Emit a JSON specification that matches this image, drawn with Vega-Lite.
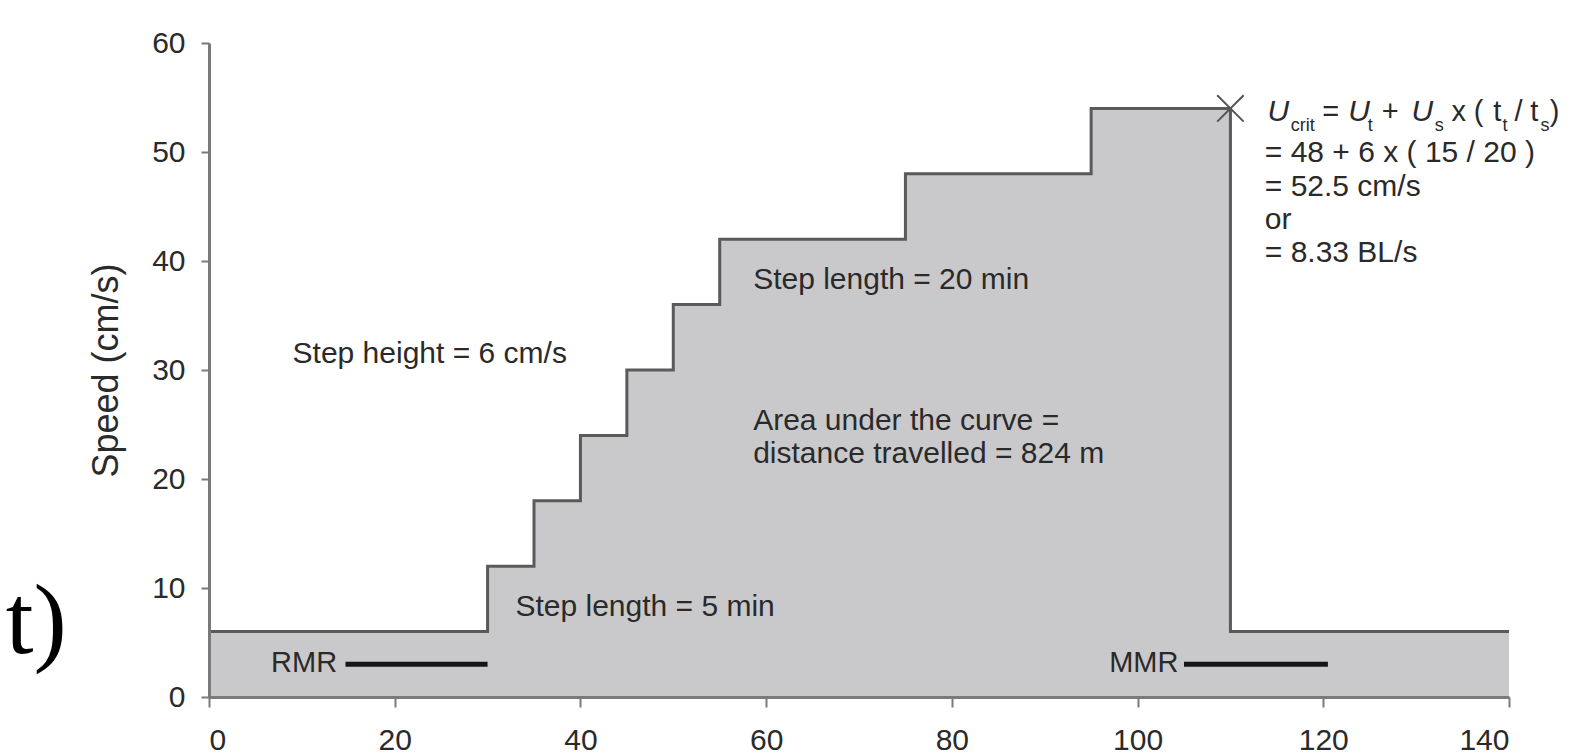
{
  "$schema": "https://vega.github.io/schema/vega-lite/v6.json",
  "width": 1300,
  "height": 654,
  "autosize": {"type": "none"},
  "padding": {"left": 209, "top": 43, "right": 74, "bottom": 57},
  "background": "white",
  "config": {"view": {"stroke": null}, "font": "Liberation Sans"},
  "datasets": {
    "steps": [
      {"t": 0, "v": 6}, {"t": 30, "v": 12}, {"t": 35, "v": 18}, {"t": 40, "v": 24},
      {"t": 45, "v": 30}, {"t": 50, "v": 36}, {"t": 55, "v": 42}, {"t": 75, "v": 48},
      {"t": 95, "v": 54}, {"t": 110, "v": 6}, {"t": 140, "v": 6}
    ]
  },
  "layer": [
    {
      "data": {"name": "steps"},
      "mark": {"type": "area", "interpolate": "step-after", "color": "#c9c9cb"},
      "encoding": {
        "x": {"field": "t", "type": "quantitative",
          "scale": {"domain": [0, 140], "nice": false},
          "axis": {"values": [0, 20, 40, 60, 80, 100, 120, 140], "title": null,
            "labelFontSize": 30, "labelColor": "#2a2a2a", "domainColor": "#7a7a7a", "domainWidth": 3,
            "tickColor": "#7a7a7a", "tickWidth": 2, "tickSize": 10, "labelPadding": 18, "grid": false, "zindex": 1}},
        "y": {"field": "v", "type": "quantitative",
          "scale": {"domain": [0, 60], "nice": false},
          "axis": {"values": [0, 10, 20, 30, 40, 50, 60], "title": "Speed (cm/s)",
            "titleFontSize": 36, "titleFontWeight": "normal", "titleColor": "#2a2a2a", "titlePadding": 26,
            "labelFontSize": 30, "labelColor": "#2a2a2a", "domainColor": "#7a7a7a", "domainWidth": 3,
            "tickColor": "#7a7a7a", "tickWidth": 2, "tickSize": 8, "labelPadding": 16, "grid": false, "zindex": 1}}
      }
    },
    {
      "data": {"name": "steps"},
      "mark": {"type": "line", "interpolate": "step-after", "color": "#5a5a5a", "strokeWidth": 3},
      "encoding": {
        "x": {"field": "t", "type": "quantitative"},
        "y": {"field": "v", "type": "quantitative"}
      }
    },
    {
      "data": {"values": [{"a": 14.7, "b": 30, "y": 3}, {"a": 105, "b": 120.5, "y": 3}]},
      "mark": {"type": "rule", "strokeWidth": 5, "color": "#151515"},
      "encoding": {
        "x": {"field": "a", "type": "quantitative"},
        "x2": {"field": "b"},
        "y": {"field": "y", "type": "quantitative"}
      }
    },
    {
      "data": {"values": [{"t": 110, "v": 54}]},
      "mark": {"type": "point", "shape": "M-1,-1L1,1M1,-1L-1,1", "size": 700, "filled": false, "stroke": "#555", "strokeWidth": 2, "opacity": 1},
      "encoding": {
        "x": {"field": "t", "type": "quantitative"},
        "y": {"field": "v", "type": "quantitative"}
      }
    },
    {
      "data": {"values": [
        {"label": "Step height = 6 cm/s", "x": 9.0, "y": 31.5},
        {"label": "Step length = 20 min", "x": 58.6, "y": 38.3},
        {"label": "Area under the curve =", "x": 58.6, "y": 25.3},
        {"label": "distance travelled = 824 m", "x": 58.6, "y": 22.3},
        {"label": "Step length = 5 min", "x": 33.0, "y": 8.3},
        {"label": "= 48 + 6 x ( 15 / 20 )", "x": 113.7, "y": 49.9},
        {"label": "= 52.5 cm/s", "x": 113.7, "y": 46.8},
        {"label": "or", "x": 113.7, "y": 43.8},
        {"label": "= 8.33 BL/s", "x": 113.7, "y": 40.7}
      ]},
      "mark": {"type": "text", "align": "left", "baseline": "middle", "fontSize": 30, "color": "#2a2a2a"},
      "encoding": {
        "x": {"field": "x", "type": "quantitative"},
        "y": {"field": "y", "type": "quantitative"},
        "text": {"field": "label"}
      }
    },
    {
      "data": {"values": [
        {"label": "RMR", "x": 13.8, "y": 3.1},
        {"label": "MMR", "x": 104.4, "y": 3.1}
      ]},
      "mark": {"type": "text", "align": "right", "baseline": "middle", "fontSize": 29, "color": "#2a2a2a"},
      "encoding": {
        "x": {"field": "x", "type": "quantitative"},
        "y": {"field": "y", "type": "quantitative"},
        "text": {"field": "label"}
      }
    },
    {
      "data": {"values": [
        {"label": "U", "x": 114.0, "y": 53.7},
        {"label": "U", "x": 122.7, "y": 53.7},
        {"label": "U", "x": 129.5, "y": 53.7}
      ]},
      "mark": {"type": "text", "align": "left", "baseline": "middle", "fontSize": 30, "fontStyle": "italic", "color": "#2a2a2a"},
      "encoding": {
        "x": {"field": "x", "type": "quantitative"},
        "y": {"field": "y", "type": "quantitative"},
        "text": {"field": "label"}
      }
    },
    {
      "data": {"values": [
        {"label": "=", "x": 119.9, "y": 53.7},
        {"label": "+", "x": 126.3, "y": 53.7},
        {"label": "x", "x": 133.8, "y": 53.7},
        {"label": "(", "x": 136.2, "y": 53.7},
        {"label": "t", "x": 138.3, "y": 53.7},
        {"label": "/", "x": 140.6, "y": 53.7},
        {"label": "t", "x": 142.3, "y": 53.7},
        {"label": ")", "x": 144.4, "y": 53.7}
      ]},
      "mark": {"type": "text", "align": "left", "baseline": "middle", "fontSize": 29, "color": "#2a2a2a"},
      "encoding": {
        "x": {"field": "x", "type": "quantitative"},
        "y": {"field": "y", "type": "quantitative"},
        "text": {"field": "label"}
      }
    },
    {
      "data": {"values": [
        {"label": "crit", "x": 116.5, "y": 52.4},
        {"label": "t", "x": 124.8, "y": 52.4},
        {"label": "s", "x": 132.0, "y": 52.4},
        {"label": "t", "x": 139.3, "y": 52.4},
        {"label": "s", "x": 143.4, "y": 52.4}
      ]},
      "mark": {"type": "text", "align": "left", "baseline": "middle", "fontSize": 18, "color": "#2a2a2a"},
      "encoding": {
        "x": {"field": "x", "type": "quantitative"},
        "y": {"field": "y", "type": "quantitative"},
        "text": {"field": "label"}
      }
    },
    {
      "data": {"values": [{"label": "t)", "x": -18.6, "y": 4.0}]},
      "mark": {"type": "text", "align": "center", "baseline": "alphabetic", "fontSize": 100, "font": "Liberation Serif", "color": "#000"},
      "encoding": {
        "x": {"field": "x", "type": "quantitative"},
        "y": {"field": "y", "type": "quantitative"},
        "text": {"field": "label"}
      }
    }
  ]
}
